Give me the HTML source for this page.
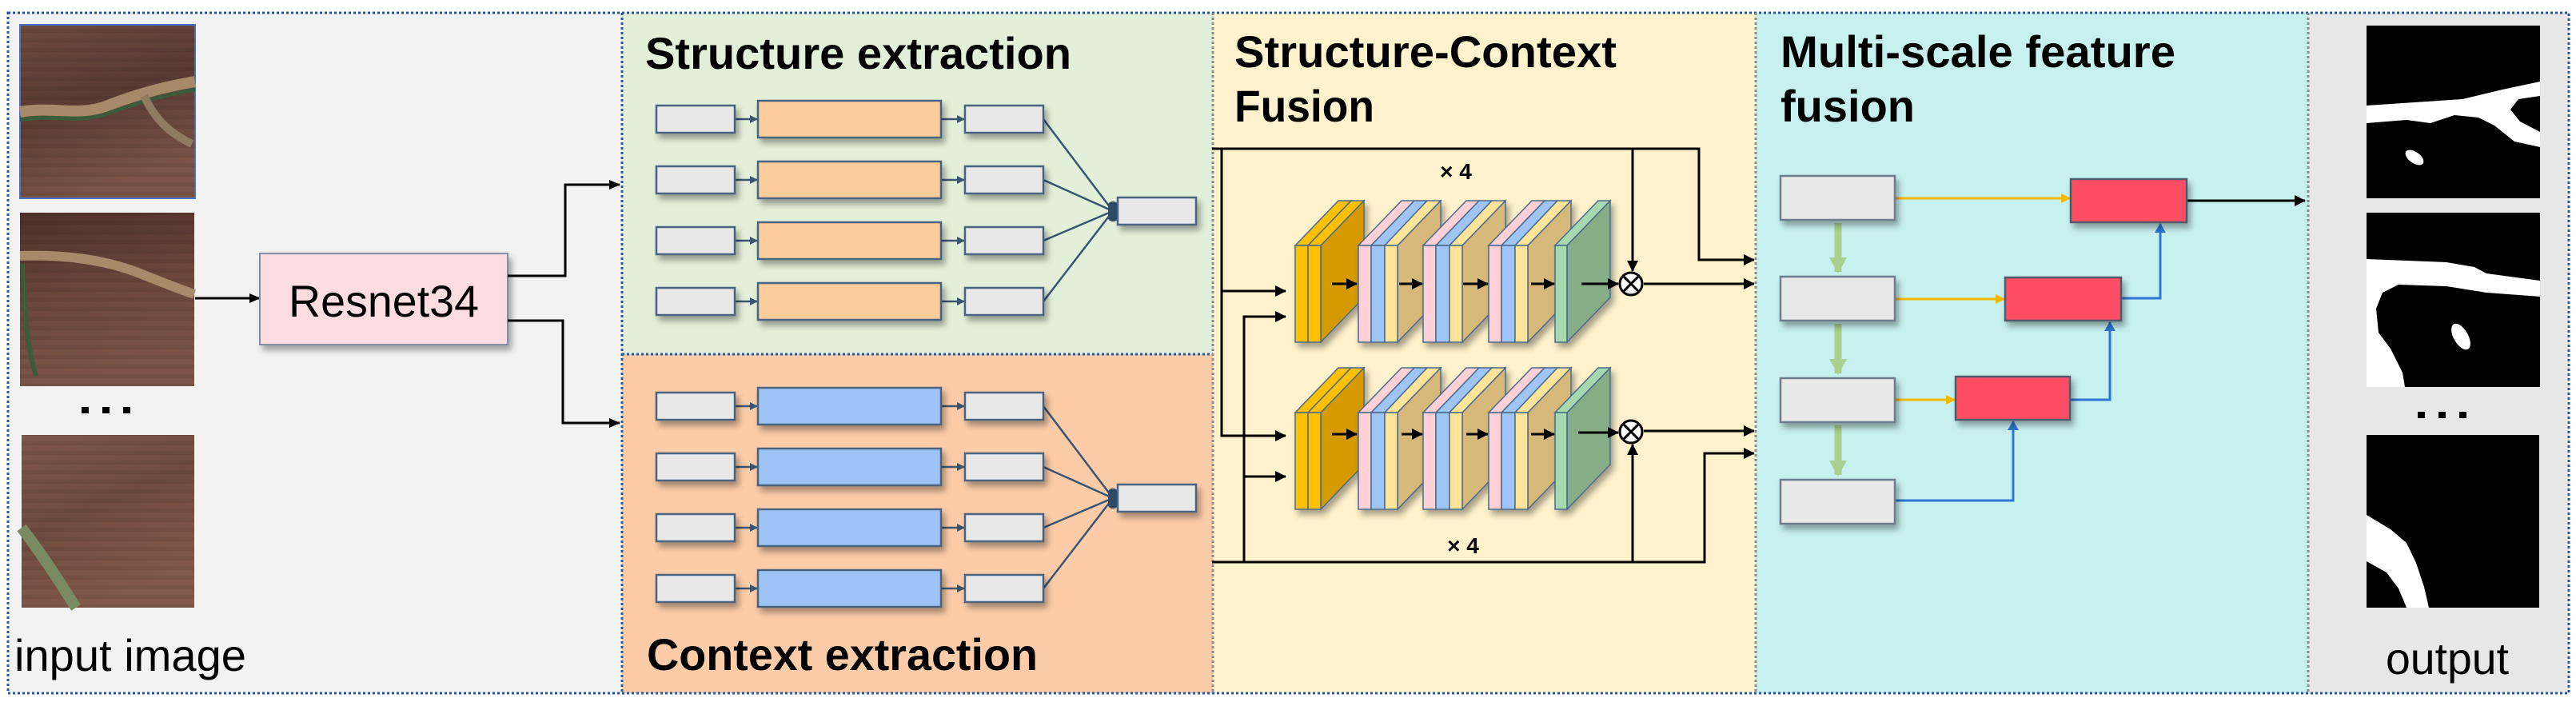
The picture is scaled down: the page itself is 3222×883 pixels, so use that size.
<!DOCTYPE html>
<html><head><meta charset="utf-8"><style>
html,body{margin:0;padding:0;background:#fff;}
svg{display:block;}
text{font-family:"Liberation Sans",sans-serif;}
</style></head><body>
<svg width="3222" height="883" viewBox="0 0 3222 883" xmlns="http://www.w3.org/2000/svg">
<defs>
<filter id="sh" x="-20%" y="-20%" width="150%" height="160%"><feDropShadow dx="4" dy="6" stdDeviation="4" flood-color="#000" flood-opacity="0.35"/></filter>
<marker id="ah" markerWidth="14" markerHeight="12" refX="13" refY="6" orient="auto" markerUnits="userSpaceOnUse"><path d="M0,0 L14,6 L0,12z" fill="#000"/></marker>
<marker id="ahb" markerWidth="14" markerHeight="14" refX="13" refY="7" orient="auto" markerUnits="userSpaceOnUse"><path d="M0,0 L14,7 L0,14z" fill="#000"/></marker>
<marker id="ahs" markerWidth="10" markerHeight="10" refX="9" refY="5" orient="auto" markerUnits="userSpaceOnUse"><path d="M0,0 L10,5 L0,10z" fill="#3a5570"/></marker>
<marker id="ahy" markerWidth="12" markerHeight="12" refX="11" refY="6" orient="auto" markerUnits="userSpaceOnUse"><path d="M0,0 L12,6 L0,12z" fill="#f5b800"/></marker>
<marker id="ahbl" markerWidth="12" markerHeight="14" refX="11" refY="7" orient="auto" markerUnits="userSpaceOnUse"><path d="M0,0 L12,7 L0,14z" fill="#2e75d6"/></marker>
<marker id="ahg" markerWidth="20" markerHeight="22" refX="18" refY="11" orient="auto" markerUnits="userSpaceOnUse"><path d="M0,0 L20,11 L0,22z" fill="#a9d08e"/></marker>

<g id="blkA" stroke="#4a6a8a" stroke-width="1.5" filter="url(#sh)">
<polygon points="32,0 86,-56 86,65 32,121" fill="#d49a00"/>
<polygon points="0,0 54,-56 70,-56 16,0" fill="#ffc000"/>
<polygon points="16,0 70,-56 86,-56 32,0" fill="#ffc000"/>
<rect x="0" y="0" width="16" height="121" fill="#ffc000"/>
<rect x="16" y="0" width="16" height="121" fill="#ffc000"/>
</g>
<g id="blkB" stroke="#4a6a8a" stroke-width="1.5" filter="url(#sh)">
<polygon points="49,0 103,-56 103,65 49,121" fill="#d6b97a"/>
<polygon points="0,0 54,-56 70,-56 16,0" fill="#ffd0d6"/>
<polygon points="16,0 70,-56 86,-56 33,0" fill="#9ec5f5"/>
<polygon points="33,0 86,-56 103,-56 49,0" fill="#ffe49a"/>
<rect x="0" y="0" width="16" height="121" fill="#ffd0d6"/>
<rect x="16" y="0" width="17" height="121" fill="#9ec5f5"/>
<rect x="33" y="0" width="16" height="121" fill="#ffe49a"/>
</g>
<g id="blkG" stroke="#4a6a8a" stroke-width="1.5" filter="url(#sh)">
<polygon points="15,0 69,-56 69,65 15,121" fill="#86ad86"/>
<polygon points="0,0 54,-56 69,-56 15,0" fill="#a8d8b0"/>
<rect x="0" y="0" width="15" height="121" fill="#a8d8b0"/>
</g>

<linearGradient id="sat1" x1="0" y1="0" x2="0.3" y2="1"><stop offset="0" stop-color="#6e4a3e"/><stop offset="0.5" stop-color="#5b3a32"/><stop offset="1" stop-color="#7a5548"/></linearGradient>
<linearGradient id="sat2" x1="0" y1="0" x2="0.2" y2="1"><stop offset="0" stop-color="#4e3029"/><stop offset="0.5" stop-color="#6b463b"/><stop offset="1" stop-color="#7a5548"/></linearGradient>
<linearGradient id="sat3" x1="0" y1="0" x2="0.4" y2="1"><stop offset="0" stop-color="#7c5749"/><stop offset="0.5" stop-color="#6f4c40"/><stop offset="1" stop-color="#82594a"/></linearGradient>
<pattern id="stripes" width="217" height="12" patternUnits="userSpaceOnUse"><rect width="217" height="5" fill="#000" opacity="0.06"/></pattern>
</defs>

<!-- panels -->
<rect x="10" y="16" width="768" height="851" fill="#f2f2f2"/>
<rect x="778" y="16" width="739" height="427" fill="#e2f0d9"/>
<rect x="778" y="443" width="739" height="424" fill="#fccca8"/>
<rect x="1517" y="16" width="679" height="851" fill="#fff2cc"/>
<rect x="2196" y="16" width="691" height="851" fill="#c7f1ef"/>
<rect x="2887" y="16" width="326" height="851" fill="#e7e7e7"/>
<g fill="none" stroke-dasharray="3,3" stroke-width="3">
<rect x="10" y="16" width="3203" height="851" stroke="#2f5597"/>
<line x1="778" y1="16" x2="778" y2="867" stroke="#2f5597"/>
<line x1="778" y1="443" x2="1517" y2="443" stroke="#2f5597"/>
<line x1="1517" y1="16" x2="1517" y2="867" stroke="#8a8a8a"/>
<line x1="2196" y1="16" x2="2196" y2="867" stroke="#8a8a8a"/>
<line x1="2887" y1="16" x2="2887" y2="867" stroke="#8a8a8a"/>
</g>

<!-- input images -->
<rect x="25" y="31" width="219" height="217" fill="url(#sat1)" stroke="#4472c4" stroke-width="2"/>
<rect x="25" y="31" width="219" height="217" fill="url(#stripes)"/>
<path d="M25,140 C70,132 100,148 140,130 C180,115 210,108 244,102" stroke="#a88a6a" stroke-width="14" fill="none"/>
<path d="M25,150 C70,142 100,156 140,140 C180,126 210,118 244,112" stroke="#3d5a3a" stroke-width="5" fill="none"/>
<path d="M180,120 C195,150 210,165 240,180" stroke="#8f7a62" stroke-width="10" fill="none"/>
<rect x="25" y="266" width="218" height="217" fill="url(#sat2)"/>
<rect x="25" y="266" width="218" height="217" fill="url(#stripes)"/>
<path d="M25,320 C80,318 130,325 170,340 C200,352 220,360 243,368" stroke="#a88a6a" stroke-width="12" fill="none"/>
<path d="M28,330 C32,380 30,420 45,470" stroke="#3d5a3a" stroke-width="6" fill="none"/>
<rect x="27" y="544" width="216" height="216" fill="url(#sat3)"/>
<rect x="27" y="544" width="216" height="216" fill="url(#stripes)"/>
<path d="M27,660 C50,690 70,720 95,760" stroke="#7a8a62" stroke-width="14" fill="none"/>
<g fill="#000"><rect x="102" y="509" width="9" height="8"/><rect x="128" y="509" width="9" height="8"/><rect x="154" y="509" width="9" height="8"/></g>
<text x="18" y="839" font-size="56" fill="#000" textLength="290" lengthAdjust="spacingAndGlyphs">input image</text>

<!-- resnet -->
<line x1="244" y1="373" x2="325" y2="373" stroke="#000" stroke-width="3" marker-end="url(#ah)"/>
<rect x="325" y="317" width="310" height="114" fill="#fddde2" stroke="#7f8fa6" stroke-width="2" filter="url(#sh)"/>
<text x="480" y="396" font-size="56" text-anchor="middle" fill="#000" textLength="238" lengthAdjust="spacingAndGlyphs">Resnet34</text>
<polyline points="635,345 707,345 707,231 775,231" fill="none" stroke="#000" stroke-width="3" marker-end="url(#ah)"/>
<polyline points="635,401 704,401 704,529 775,529" fill="none" stroke="#000" stroke-width="3" marker-end="url(#ah)"/>

<!-- titles -->
<text x="807" y="86" font-size="56" font-weight="bold" textLength="533" lengthAdjust="spacingAndGlyphs">Structure extraction</text>
<text x="809" y="838" font-size="56" font-weight="bold" textLength="489" lengthAdjust="spacingAndGlyphs">Context extraction</text>
<text x="1544" y="84" font-size="56" font-weight="bold" textLength="478" lengthAdjust="spacingAndGlyphs">Structure-Context</text>
<text x="1544" y="152" font-size="56" font-weight="bold" textLength="175" lengthAdjust="spacingAndGlyphs">Fusion</text>
<text x="2227" y="84" font-size="56" font-weight="bold" textLength="494" lengthAdjust="spacingAndGlyphs">Multi-scale feature</text>
<text x="2227" y="152" font-size="56" font-weight="bold" textLength="168" lengthAdjust="spacingAndGlyphs">fusion</text>
<text x="2984" y="843" font-size="56" textLength="154" lengthAdjust="spacingAndGlyphs">output</text>

<!-- structure rows -->
<g id="rows">
<g stroke="#3a5570" stroke-width="2.5" fill="none">
<line x1="919" y1="149" x2="947" y2="149" marker-end="url(#ahs)"/>
<line x1="919" y1="225" x2="947" y2="225" marker-end="url(#ahs)"/>
<line x1="919" y1="301" x2="947" y2="301" marker-end="url(#ahs)"/>
<line x1="919" y1="377" x2="947" y2="377" marker-end="url(#ahs)"/>
<line x1="1177" y1="149" x2="1206" y2="149" marker-end="url(#ahs)"/>
<line x1="1177" y1="225" x2="1206" y2="225" marker-end="url(#ahs)"/>
<line x1="1177" y1="301" x2="1206" y2="301" marker-end="url(#ahs)"/>
<line x1="1177" y1="377" x2="1206" y2="377" marker-end="url(#ahs)"/>
<line x1="1305" y1="149" x2="1392" y2="264"/>
<line x1="1305" y1="225" x2="1392" y2="264"/>
<line x1="1305" y1="301" x2="1392" y2="264"/>
<line x1="1305" y1="377" x2="1392" y2="264"/>
</g>
<rect x="1386" y="252" width="12" height="25" rx="5" fill="#2f4a66"/>
<g fill="#e8e8e8" stroke="#4a6480" stroke-width="2.5" filter="url(#sh)">
<rect x="821" y="132" width="98" height="34"/>
<rect x="821" y="208" width="98" height="34"/>
<rect x="821" y="284" width="98" height="34"/>
<rect x="821" y="360" width="98" height="34"/>
<rect x="1207" y="132" width="98" height="34"/>
<rect x="1207" y="208" width="98" height="34"/>
<rect x="1207" y="284" width="98" height="34"/>
<rect x="1207" y="360" width="98" height="34"/>
<rect x="1398" y="247" width="98" height="34"/>
</g>
</g>
<g fill="#fdcc9b" stroke="#4a6480" stroke-width="2.5" filter="url(#sh)">
<rect x="948" y="126" width="229" height="46"/>
<rect x="948" y="202" width="229" height="46"/>
<rect x="948" y="278" width="229" height="46"/>
<rect x="948" y="354" width="229" height="46"/>
</g>
<use href="#rows" transform="translate(0,359)"/>
<g fill="#9dc3f5" stroke="#4a6480" stroke-width="2.5" filter="url(#sh)">
<rect x="948" y="485" width="229" height="46"/>
<rect x="948" y="561" width="229" height="46"/>
<rect x="948" y="637" width="229" height="46"/>
<rect x="948" y="713" width="229" height="46"/>
</g>

<!-- fusion -->
<g stroke="#000" stroke-width="3" fill="none">
<polyline points="1516,186 2125,186 2125,325 2194,325" marker-end="url(#ahb)"/>
<line x1="2042" y1="186" x2="2042" y2="339" marker-end="url(#ahb)"/>
<polyline points="1528,186 1528,545 1608,545" marker-end="url(#ahb)"/>
<line x1="1528" y1="364" x2="1608" y2="364" marker-end="url(#ahb)"/>
<polyline points="1516,703 2132,703 2132,567 2194,567" marker-end="url(#ahb)"/>
<line x1="2042" y1="703" x2="2042" y2="556" marker-end="url(#ahb)"/>
<polyline points="1556,703 1556,396 1608,396" marker-end="url(#ahb)"/>
<line x1="1556" y1="596" x2="1608" y2="596" marker-end="url(#ahb)"/>
<line x1="2056" y1="355" x2="2194" y2="355" marker-end="url(#ahb)"/>
<line x1="2056" y1="539" x2="2194" y2="539" marker-end="url(#ahb)"/>
</g>
<text x="1821" y="224" font-family="Liberation Serif" font-size="28" font-weight="bold" text-anchor="middle">× 4</text>
<text x="1830" y="692" font-family="Liberation Serif" font-size="28" font-weight="bold" text-anchor="middle">× 4</text>

<use href="#blkA" transform="translate(1620,307)"/>
<use href="#blkB" transform="translate(1699,307)"/>
<use href="#blkB" transform="translate(1780,307)"/>
<use href="#blkB" transform="translate(1862,307)"/>
<use href="#blkG" transform="translate(1945,307)"/>
<use href="#blkA" transform="translate(1620,516)"/>
<use href="#blkB" transform="translate(1699,516)"/>
<use href="#blkB" transform="translate(1780,516)"/>
<use href="#blkB" transform="translate(1862,516)"/>
<use href="#blkG" transform="translate(1945,516)"/>
<g stroke="#000" stroke-width="3">
<line x1="1666" y1="355" x2="1697" y2="355" marker-end="url(#ahb)"/>
<line x1="1750" y1="355" x2="1779" y2="355" marker-end="url(#ahb)"/>
<line x1="1830" y1="355" x2="1861" y2="355" marker-end="url(#ahb)"/>
<line x1="1915" y1="355" x2="1944" y2="355" marker-end="url(#ahb)"/>
<line x1="1978" y1="355" x2="2024" y2="355" marker-end="url(#ahb)"/>
<line x1="1666" y1="543" x2="1697" y2="543" marker-end="url(#ahb)"/>
<line x1="1753" y1="543" x2="1779" y2="543" marker-end="url(#ahb)"/>
<line x1="1834" y1="543" x2="1861" y2="543" marker-end="url(#ahb)"/>
<line x1="1915" y1="543" x2="1944" y2="543" marker-end="url(#ahb)"/>
<line x1="1974" y1="541" x2="2024" y2="541" marker-end="url(#ahb)"/>
</g>
<g stroke="#000" stroke-width="3" fill="#fff">
<circle cx="2040" cy="355" r="14"/>
<line x1="2030" y1="345" x2="2050" y2="365"/><line x1="2050" y1="345" x2="2030" y2="365"/>
<circle cx="2040" cy="540" r="14"/>
<line x1="2030" y1="530" x2="2050" y2="550"/><line x1="2050" y1="530" x2="2030" y2="550"/>
</g>

<!-- multi-scale -->
<g stroke="#a9d08e" stroke-width="9" fill="none">
<line x1="2299" y1="279" x2="2299" y2="340" marker-end="url(#ahg)"/>
<line x1="2299" y1="405" x2="2299" y2="467" marker-end="url(#ahg)"/>
<line x1="2299" y1="532" x2="2299" y2="594" marker-end="url(#ahg)"/>
</g>
<g stroke="#f5b800" stroke-width="3" fill="none">
<line x1="2370" y1="248" x2="2589" y2="248" marker-end="url(#ahy)"/>
<line x1="2370" y1="374" x2="2507" y2="374" marker-end="url(#ahy)"/>
<line x1="2370" y1="500" x2="2445" y2="500" marker-end="url(#ahy)"/>
</g>
<g stroke="#2e75d6" stroke-width="3" fill="none">
<polyline points="2370,626 2518,626 2518,527" marker-end="url(#ahbl)"/>
<polyline points="2589,500 2639,500 2639,403" marker-end="url(#ahbl)"/>
<polyline points="2653,373 2702,373 2702,280" marker-end="url(#ahbl)"/>
</g>
<line x1="2735" y1="251" x2="2883" y2="251" stroke="#000" stroke-width="3" marker-end="url(#ahb)"/>
<g fill="#e8e8e8" stroke="#6d7d90" stroke-width="2.5" filter="url(#sh)">
<rect x="2227" y="220" width="143" height="55"/>
<rect x="2227" y="346" width="143" height="55"/>
<rect x="2227" y="473" width="143" height="55"/>
<rect x="2227" y="600" width="143" height="55"/>
</g>
<g fill="#ff4d64" stroke="#505a6a" stroke-width="2.5" filter="url(#sh)">
<rect x="2590" y="224" width="145" height="54"/>
<rect x="2508" y="347" width="145" height="54"/>
<rect x="2446" y="471" width="143" height="54"/>
</g>

<!-- output masks -->
<g transform="translate(2960,32)">
<rect width="217" height="216" fill="#000"/>
<path d="M0,100 L60,96 L120,92 L170,80 L217,70 L217,88 L190,92 L180,105 L192,120 L217,133 L217,152 L185,145 L160,125 L140,115 L110,112 L80,122 L50,118 L0,122Z" fill="#fff"/>
<ellipse cx="60" cy="165" rx="13" ry="7" transform="rotate(35 60 165)" fill="#fff"/>
</g>
<g transform="translate(2960,266)">
<rect width="217" height="218" fill="#000"/>
<path d="M0,58 L100,62 L135,68 L150,76 L217,85 L217,105 L150,100 L100,92 L40,90 L20,100 L12,120 L15,150 L30,170 L45,200 L48,218 L0,218Z" fill="#fff"/>
<ellipse cx="118" cy="155" rx="9" ry="18" transform="rotate(-30 118 155)" fill="#fff"/>
</g>
<g fill="#000"><rect x="3024" y="515" width="9" height="8"/><rect x="3050" y="515" width="9" height="8"/><rect x="3076" y="515" width="9" height="8"/></g>
<g transform="translate(2960,544)">
<rect width="216" height="216" fill="#000"/>
<path d="M0,100 L30,118 L50,135 L62,160 L72,190 L78,216 L50,216 L40,192 L25,172 L0,158Z" fill="#fff"/>
</g>
</svg>
</body></html>
